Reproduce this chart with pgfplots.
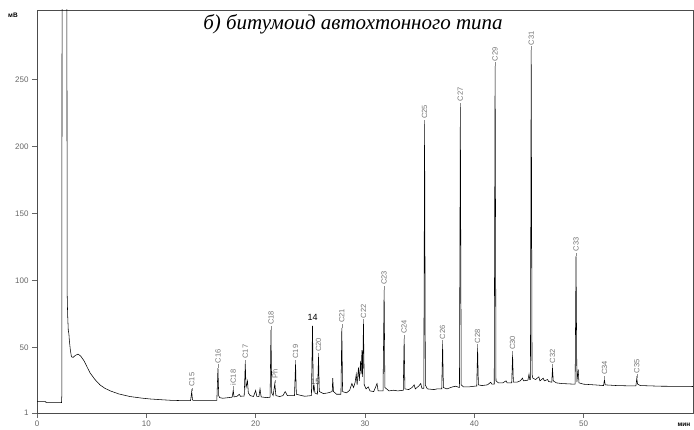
\documentclass[border=0pt]{standalone}
\usepackage{pgfplots}
\pgfplotsset{compat=1.18}
\usepackage{fontspec}
\setmainfont{Liberation Serif}
\newfontfamily\sans{Liberation Sans}
\newcommand\pk[3]{\draw[black!45, line width=0.4pt] (axis cs:#1,#2) ++(0,1.5pt) -- ++(0,5pt) node[rotate=90, anchor=west, inner sep=1pt, font=\sans\fontsize{7.5}{8}\selectfont, text=black!55] {#3};}
\begin{document}
\begin{tikzpicture}
\path[use as bounding box] (0pt,0pt) rectangle (694pt,430pt);
\begin{axis}[
  at={(37pt,17pt)}, anchor=south west,
  scale only axis, width=656pt, height=403pt,
  xmin=0, xmax=60, ymin=1, ymax=302,
  xtick={0,10,20,30,40,50}, ytick={1,50,100,150,200,250},
  tick pos=left, tick align=outside,
  major tick length=5pt,
  tick style={black!60, line width=0.5pt},
  axis line style={black!70, line width=0.6pt},
  /pgf/number format/assume math mode=true,
  ticklabel style={font=\sans\fontsize{8}{9}\selectfont, text=black!60},
  xticklabel style={yshift=1pt},
  clip mode=individual,
]
\addplot[black, line width=0.55pt] coordinates {
(0,9.5) (0.8,9.5) (0.82,8.7) (2.24,8.7) (2.27,14) (2.30,420) (2.72,420) (2.76,90)
(2.80,75) (2.86,63) (2.92,60) (2.96,55) (3.0,52) (3.05,48) (3.15,43) (3.3,42.5)
(3.5,44) (3.75,45) (4.0,43.5) (4.3,40) (4.6,35) (4.85,31) (5.3,26) (5.76,22)
(6.2,19.5) (6.7,17.5) (7.5,15.2) (8.5,13.3) (9.5,12.2) (10.3,11.5) (11.2,11) (12.2,10.5)
(13.0,10.3) (14.05,10.3) (14.15,17) (14.22,10.8) (14.3,10.4) (16.45,10.5) (16.55,34.5) (16.62,14)
(16.7,12.5) (17.0,12) (17.85,12.8) (17.95,18) (18.02,13) (18.3,13.5) (18.5,15) (18.6,13.5)
(18.95,13.6) (19.05,38) (19.12,20) (19.25,25) (19.33,16) (19.5,14) (19.8,13.3) (20.0,17.8)
(20.1,13.5) (20.3,13.3) (20.4,19) (20.5,13) (21.0,12.5) (21.32,12.8) (21.4,63) (21.47,16)
(21.6,14) (21.75,23) (21.85,14) (22.2,13.3) (22.5,14) (22.7,17) (22.9,14) (23.55,14)
(23.65,38) (23.72,15) (24.2,14) (24.5,13.5) (25.1,14) (25.2,66) (25.27,18) (25.35,21)
(25.42,16) (25.65,15) (25.75,43) (25.82,17) (26.2,15.5) (26.6,16) (27.0,17) (27.05,27)
(27.12,17) (27.4,15) (27.8,15) (27.88,64.5) (27.95,17) (28.3,16) (28.6,18) (28.8,23)
(28.95,20) (29.1,24) (29.2,30) (29.28,22) (29.4,35) (29.48,25) (29.6,40) (29.65,30)
(29.72,48) (29.78,28) (29.86,68) (29.93,22) (30.1,19) (30.3,20.5) (30.45,17.5) (30.8,17)
(31.1,23) (31.2,17.5) (31.65,17.5) (31.75,93) (31.82,20) (32.2,17.5) (32.6,18) (33.0,17.5)
(33.5,18) (33.58,56.5) (33.65,19) (34.0,18.5) (34.3,20) (34.5,22) (34.6,19) (34.9,21)
(35.1,23) (35.2,19.5) (35.38,19.5) (35.45,217) (35.52,22) (35.7,19) (36.3,18.5) (36.6,19)
(37.02,19) (37.1,52.5) (37.17,20) (37.5,19) (38.0,20.5) (38.3,21) (38.64,20) (38.72,230)
(38.8,22) (39.0,20.5) (39.5,20.5) (40.0,21) (40.22,21) (40.3,49.5) (40.37,22) (40.7,21.5)
(41.2,22) (41.5,24) (41.6,22.5) (41.82,22.5) (41.9,260) (41.98,25) (42.2,23.5) (42.6,23.5)
(42.9,25) (43.0,23.5) (43.42,23.5) (43.5,44.5) (43.57,24) (43.9,24) (44.2,25) (44.4,27)
(44.5,25) (44.9,25.5) (45.0,30) (45.07,26) (45.13,26) (45.2,272) (45.28,30) (45.35,27)
(45.6,26) (45.9,28) (46.0,25) (46.3,27) (46.4,25) (46.7,26) (46.8,24.5) (47.08,24)
(47.15,34.5) (47.22,25) (47.5,23.5) (48.0,23) (49.22,22.5) (49.3,118) (49.38,24) (49.5,33.5)
(49.57,23.5) (50.0,22.5) (51.0,22) (51.82,21.5) (51.9,25.8) (51.97,22) (53,21.5) (54.0,21.3)
(54.78,21.3) (54.86,27) (54.93,22.5) (55.2,21.5) (57,21) (60,20.8)
};
\pk{14.15}{17}{C15}
\pk{16.55}{34.5}{C16}
\pk{17.95}{18}{iC18}
\pk{19.05}{38}{C17}
\pk{21.4}{63}{C18}
\pk{21.75}{23}{Ph}
\pk{23.65}{38}{C19}
\pk{25.75}{43}{C20}
\pk{27.88}{64.5}{C21}
\pk{29.86}{68}{C22}
\pk{31.75}{93}{C23}
\pk{33.58}{56.5}{C24}
\pk{35.45}{217}{C25}
\pk{37.1}{52.5}{C26}
\pk{38.72}{230}{C27}
\pk{40.3}{49.5}{C28}
\pk{41.9}{260}{C29}
\pk{43.5}{44.5}{C30}
\pk{45.2}{272}{C31}
\pk{47.15}{34.5}{C32}
\pk{49.3}{118}{C33}
\pk{51.9}{25.8}{C34}
\pk{54.86}{27}{C35}
\node[anchor=south, inner sep=1pt, font=\sans\fontsize{9}{10}\selectfont] at (axis cs:25.2,69.5) {14};
\node[inner sep=1pt, font=\sans\fontsize{8}{9}\selectfont, text=black!70] at (axis cs:25.45,24.5) {15};
\end{axis}
\node[anchor=base, font=\fontsize{21}{22}\selectfont\itshape] at (353pt,400.5pt) {б) битумоид автохтонного типа};
\node[font=\sans\bfseries\fontsize{6.5}{7}\selectfont] at (13pt,415pt) {мВ};
\node[font=\sans\bfseries\fontsize{6.5}{7}\selectfont] at (684pt,5.5pt) {мин};
\end{tikzpicture}
\end{document}
